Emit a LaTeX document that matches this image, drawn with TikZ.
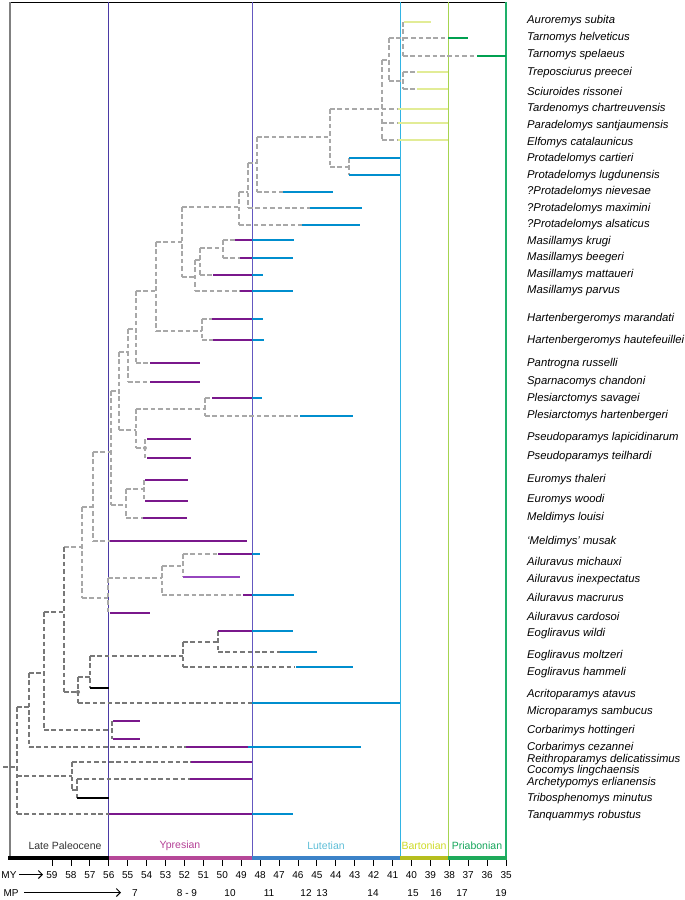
\documentclass[tikz,border=0pt]{standalone}
\usepackage{fontspec}
\setmainfont{Liberation Sans}
\usetikzlibrary{arrows.meta}
\definecolor{purp}{RGB}{122,24,140}
\definecolor{lpurp}{RGB}{150,70,190}
\definecolor{blu}{RGB}{0,142,206}
\definecolor{ylw}{RGB}{226,236,150}
\definecolor{grn}{RGB}{0,160,80}
\definecolor{lgr}{RGB}{168,168,168}
\definecolor{dgr}{RGB}{120,120,120}
\definecolor{lnA}{RGB}{75,58,165}
\definecolor{lnB}{RGB}{100,88,192}
\definecolor{lnC}{RGB}{50,180,228}
\definecolor{lnD}{RGB}{166,212,80}
\definecolor{lnE}{RGB}{30,176,106}
\definecolor{tsY}{RGB}{182,72,152}
\definecolor{tsL}{RGB}{60,130,200}
\definecolor{tsB}{RGB}{182,190,30}
\definecolor{tsP}{RGB}{30,170,90}
\definecolor{txY}{RGB}{180,64,150}
\definecolor{txL}{RGB}{95,190,215}
\definecolor{txB}{RGB}{205,218,40}
\definecolor{txP}{RGB}{20,165,90}
\tikzset{
  lg/.style={draw=lgr,line width=2pt,dash pattern=on 4.6pt off 2.8pt},
  dg/.style={draw=dgr,line width=2pt,dash pattern=on 4.6pt off 2.8pt},
  sb/.style={line width=2.7pt},
  lab/.style={anchor=west,inner sep=0pt,font=\fontsize{11.3}{13}\selectfont\itshape},
  axl/.style={inner sep=0pt,font=\fontsize{10.5}{12}\selectfont},
  num/.style={inner sep=0pt,anchor=base,font=\fontsize{10}{12}\selectfont},
  per/.style={line width=1pt}
}
\newcommand\gH[4]{\draw[#1] (#2,#4) -- (#3,#4);}
\newcommand\gV[4]{\draw[#1] (#2,#3) -- (#2,#4);}
\newcommand\sB[4]{\draw[sb,#1] (#2,#4) -- (#3,#4);}
\begin{document}
\begin{tikzpicture}[x=1pt,y=-1pt]
\useasboundingbox (0,0) rectangle (685,900);
% frame and period lines
\draw[line width=0.9pt] (10,2) -- (506,2);
\draw[line width=1.2pt,draw=gray] (10,2) -- (10,856);
\draw[per,lnA] (108.5,2) -- (108.5,856);
\draw[per,lnB] (252,2) -- (252,856);
\draw[per,lnC] (400,2) -- (400,856);
\draw[per,lnD] (448,2) -- (448,856);
\draw[per,lnE,line width=1.4pt] (506,2) -- (506,856);
% ---------- light grey dashed tree ----------
\gV{lg}{403}{22}{56}
\gH{lg}{389}{448}{38}
\gH{lg}{403}{477}{56}
\gV{lg}{389}{38}{81}
\gH{lg}{389}{403}{81}
\gV{lg}{403}{72}{89}
\gH{lg}{403}{417}{72}
\gH{lg}{403}{417}{89}
\gV{lg}{382}{60}{140}
\gH{lg}{382}{389}{60}
\gH{lg}{330}{398}{109}
\gH{lg}{382}{398}{123}
\gH{lg}{382}{398}{140}
\gV{lg}{330}{109}{167}
\gH{lg}{330}{349}{167}
\gV{lg}{349}{158}{175}
\gH{lg}{257}{330}{137}
\gV{lg}{257}{137}{192}
\gH{lg}{257}{283}{192}
\gH{lg}{248}{257}{163}
\gV{lg}{248}{163}{208}
\gH{lg}{248}{310}{208}
\gH{lg}{239}{248}{192}
\gV{lg}{239}{192}{225}
\gH{lg}{239}{302}{225}
\gH{lg}{182}{239}{207}
\gV{lg}{182}{207}{277}
\gH{lg}{182}{195}{277}
\gV{lg}{195}{260}{291}
\gH{lg}{195}{240}{291}
\gH{lg}{195}{200}{260}
\gV{lg}{200}{248}{275}
\gH{lg}{200}{213}{275}
\gH{lg}{200}{223}{248}
\gV{lg}{223}{240}{258}
\gH{lg}{223}{235}{240}
\gH{lg}{223}{240}{258}
\gH{lg}{156}{182}{242}
\gV{lg}{156}{242}{331}
\gH{lg}{156}{202}{331}
\gV{lg}{202}{319}{340}
\gH{lg}{202}{212}{319}
\gH{lg}{202}{213}{340}
\gH{lg}{136}{156}{291}
\gV{lg}{136}{291}{363}
\gH{lg}{136}{150}{363}
\gH{lg}{128}{136}{329}
\gV{lg}{128}{329}{382}
\gH{lg}{128}{150}{382}
\gH{lg}{119}{128}{352}
\gV{lg}{119}{352}{430}
\gH{lg}{119}{136}{430}
\gV{lg}{136}{409}{448}
\gH{lg}{136}{205}{409}
\gV{lg}{205}{398}{416}
\gH{lg}{205}{212}{398}
\gH{lg}{205}{300}{416}
\gH{lg}{136}{145}{448}
\gV{lg}{145}{439}{458}
\gH{lg}{111}{119}{391}
\gV{lg}{111}{391}{505}
\gH{lg}{111}{126}{505}
\gV{lg}{126}{489}{518}
\gH{lg}{126}{144}{489}
\gV{lg}{144}{480}{501}
\gH{lg}{126}{143}{518}
\gH{lg}{93}{111}{452}
\gV{lg}{93}{452}{541}
\gH{lg}{93}{110}{541}
\gH{lg}{82}{93}{507}
\gV{lg}{82}{507}{598}
\gH{lg}{82}{108}{598}
\gV{lg}{108}{578}{613}
\gH{lg}{108}{162}{578}
\gV{lg}{162}{566}{595}
\gH{lg}{162}{183}{566}
\gV{lg}{183}{554}{577}
\gH{lg}{183}{218}{554}
\gH{lg}{162}{243}{595}
\gH{lg}{64}{82}{547}
\fill[lgr] (145,448) circle (2pt);
% ---------- dark grey dashed tree ----------
\gV{dg}{64}{547}{692}
\gH{dg}{44}{64}{612}
\gV{dg}{44}{612}{730}
\gH{dg}{44}{112}{730}
\gV{dg}{112}{721}{739}
\gH{dg}{90}{183}{656}
\gV{dg}{183}{642}{667}
\gH{dg}{183}{218}{642}
\gV{dg}{218}{631}{652}
\gH{dg}{218}{280}{652}
\gH{dg}{183}{295}{667}
\gV{dg}{90}{656}{688}
\gH{dg}{78}{90}{677}
\gV{dg}{78}{677}{703}
\gH{dg}{78}{252}{703}
\gH{dg}{64}{78}{692}
\gH{dg}{29}{44}{673}
\gV{dg}{29}{673}{747}
\gH{dg}{29}{186}{747}
\gH{dg}{17}{29}{707}
\gV{dg}{17}{707}{814}
\gH{dg}{3}{17}{767}
\gH{dg}{17}{72}{776}
\gV{dg}{72}{762}{790}
\gH{dg}{72}{191}{762}
\gH{dg}{72}{77}{790}
\gV{dg}{77}{779}{798}
\gH{dg}{77}{190}{779}
\gH{dg}{17}{109}{814}
\fill[dgr] (78,692) circle (2pt);
% ---------- range bars ----------
\sB{ylw}{404}{431}{22}
\sB{grn}{448}{468}{38}
\sB{grn}{477}{506}{56}
\sB{ylw}{417}{448}{72}
\sB{ylw}{417}{448}{89}
\sB{ylw}{398}{448}{109}
\sB{ylw}{398}{448}{123}
\sB{ylw}{398}{448}{140}
\sB{blu}{349}{400}{158}
\sB{blu}{349}{400}{175}
\sB{blu}{283}{333}{192}
\sB{blu}{310}{362}{208}
\sB{blu}{302}{360}{225}
\sB{purp}{235}{252}{240}\sB{blu}{252}{294}{240}
\sB{purp}{240}{252}{258}\sB{blu}{252}{293}{258}
\sB{purp}{213}{252}{275}\sB{blu}{252}{263}{275}
\sB{purp}{240}{252}{291}\sB{blu}{252}{293}{291}
\sB{purp}{212}{252}{319}\sB{blu}{252}{263}{319}
\sB{purp}{213}{252}{340}\sB{blu}{252}{264}{340}
\sB{purp}{150}{200}{363}
\sB{purp}{150}{200}{382}
\sB{purp}{212}{252}{398}\sB{blu}{252}{262}{398}
\sB{blu}{300}{353}{416}
\sB{purp}{147}{191}{439}
\sB{purp}{147}{191}{458}
\sB{purp}{145}{188}{480}
\sB{purp}{145}{188}{501}
\sB{purp}{143}{187}{518}
\sB{purp}{110}{247}{541}
\sB{purp}{218}{252}{554}\sB{blu}{252}{260}{554}
\sB{lpurp}{183}{240}{577}
\sB{purp}{243}{252}{595}\sB{blu}{252}{294}{595}
\sB{purp}{110}{150}{613}
\sB{purp}{218}{252}{631}\sB{blu}{252}{293}{631}
\sB{blu}{280}{317}{652}
\sB{blu}{296}{353}{667}
\sB{black}{90}{109}{688}
\sB{blu}{252}{400}{703}
\sB{purp}{113}{140}{721}
\sB{purp}{113}{140}{739}
\sB{purp}{186}{248}{747}\sB{blu}{248}{361}{747}
\sB{purp}{191}{252}{762}
\sB{purp}{190}{252}{779}
\sB{black}{77}{109}{798}
\sB{purp}{109}{252}{814}\sB{blu}{252}{293}{814}
% ---------- species labels ----------
\node[lab] (t01) at (527,21) {Auroremys subita};
\node[lab] (t02) at (527,38) {Tarnomys helveticus};
\node[lab] (t03) at (527,55) {Tarnomys spelaeus};
\node[lab] (t04) at (527,73) {Treposciurus preecei};
\node[lab] (t05) at (527,91) {Sciuroides rissonei};
\node[lab] (t06) at (527,109) {Tardenomys chartreuvensis};
\node[lab] (t07) at (527,126) {Paradelomys santjaumensis};
\node[lab] (t08) at (527,143) {Elfomys catalaunicus};
\node[lab] (t09) at (527,159) {Protadelomys cartieri};
\node[lab] (t10) at (527,176) {Protadelomys lugdunensis};
\node[lab] (t11) at (527,192) {?Protadelomys nievesae};
\node[lab] (t12) at (527,209) {?Protadelomys maximini};
\node[lab] (t13) at (527,225) {?Protadelomys alsaticus};
\node[lab] (t14) at (527,242) {Masillamys krugi};
\node[lab] (t15) at (527,258) {Masillamys beegeri};
\node[lab] (t16) at (527,275) {Masillamys mattaueri};
\node[lab] (t17) at (527,291) {Masillamys parvus};
\node[lab] (t18) at (527,319) {Hartenbergeromys marandati};
\node[lab] (t19) at (527,341) {Hartenbergeromys hautefeuillei};
\node[lab] (t20) at (527,364) {Pantrogna russelli};
\node[lab] (t21) at (527,382) {Sparnacomys chandoni};
\node[lab] (t22) at (527,399) {Plesiarctomys savagei};
\node[lab] (t23) at (527,416) {Plesiarctomys hartenbergeri};
\node[lab] (t24) at (527,438) {Pseudoparamys lapicidinarum};
\node[lab] (t25) at (527,457) {Pseudoparamys teilhardi};
\node[lab] (t26) at (527,480) {Euromys thaleri};
\node[lab] (t27) at (527,500) {Euromys woodi};
\node[lab] (t28) at (527,518) {Meldimys louisi};
\node[lab] (t29) at (527,542) {‘Meldimys’ musak};
\node[lab] (t30) at (527,561) {Ailuravus michauxi};
\node[lab] (t31) at (527,580) {Ailuravus inexpectatus};
\node[lab] (t32) at (527,597) {Ailuravus macrurus};
\node[lab] (t33) at (527,616) {Ailuravus cardosoi};
\node[lab] (t34) at (527,634) {Eogliravus wildi};
\node[lab] (t35) at (527,656) {Eogliravus moltzeri};
\node[lab] (t36) at (527,673) {Eogliravus hammeli};
\node[lab] (t37) at (527,695) {Acritoparamys atavus};
\node[lab] (t38) at (527,712) {Microparamys sambucus};
\node[lab] (t39) at (527,731) {Corbarimys hottingeri};
\node[lab] (t40) at (527,748) {Corbarimys cezannei};
\node[lab] (t41) at (527,760) {Reithroparamys delicatissimus};
\node[lab] (t42) at (527,771) {Cocomys lingchaensis};
\node[lab] (t43) at (527,783) {Archetypomys erlianensis};
\node[lab] (t44) at (527,799) {Tribosphenomys minutus};
\node[lab] (t45) at (527,816) {Tanquammys robustus};
% ---------- timescale ----------
\draw[line width=4.5pt,black] (8,858) -- (108.5,858);
\draw[line width=4.5pt,tsY] (108.5,858) -- (252,858);
\draw[line width=4.5pt,tsL] (252,858) -- (400,858);
\draw[line width=4.5pt,tsB] (400,858) -- (448,858);
\draw[line width=4.5pt,tsP] (448,858) -- (507,858);
\node[axl,text=black!80] (pLP) at (65,846) {Late Paleocene};
\node[axl,text=txY] (pY) at (180,846) {Ypresian};
\node[axl,text=txL] (pL) at (326,846) {Lutetian};
\node[axl,text=txB] (pB) at (424,846) {Bartonian};
\node[axl,text=txP] (pP) at (477,846) {Priabonian};
\foreach \m in {35,...,59}{
  \draw[line width=0.8pt] ({52+18.92*(59-\m)},860) -- ({52+18.92*(59-\m)},866);
  \node[num] at ({52+18.92*(59-\m)},878) {\m};
}
\node[num] (my) at (9,878) {MY};
\coordinate (myA) at (19,874.5);
\coordinate (myB) at (43,874.5);
\draw[line width=1pt,-{Straight Barb[length=4pt,width=8pt]}] (myA) -- (myB);
\node[num] (mp) at (11,896) {MP};
\coordinate (mpA) at (24,892.5);
\coordinate (mpB) at (121,892.5);
\draw[line width=1pt,-{Straight Barb[length=4pt,width=8pt]}] (mpA) -- (mpB);
\node[num] at (135,896) {7};
\node[num] at (187,896) {8 - 9};
\node[num] at (230,896) {10};
\node[num] at (269,896) {11};
\node[num] at (306,896) {12};
\node[num] at (322,896) {13};
\node[num] at (373,896) {14};
\node[num] at (413,896) {15};
\node[num] at (436,896) {16};
\node[num] at (462,896) {17};
\node[num] at (501,896) {19};
\end{tikzpicture}
\end{document}
